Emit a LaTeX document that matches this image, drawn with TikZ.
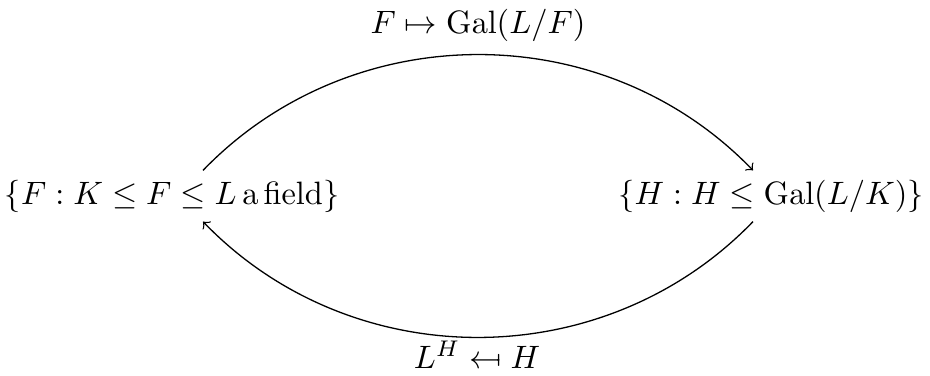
\documentclass[tikz,border=0pt]{standalone}
\usepackage{amsmath}
\usepackage{stmaryrd}
\usetikzlibrary{calc}
\begin{document}
\begin{tikzpicture}[x=0.309pt,y=-0.309pt,
  setnode/.style={inner sep=3.33pt},
  lbl/.style={inner sep=0pt},
  arr/.style={->,line width=0.4pt}]
\useasboundingbox (0,0) rectangle (930,376);
\node[setnode] (l) at (172,196) {$\{F : K \leq F \leq L\,\mathrm{a\,field}\}$};
\node[setnode] (r) at (771,196) {$\{H : H \leq \mathrm{Gal}(L/K)\}$};
\node[lbl] (t) at (478,25) {$F \mapsto \mathrm{Gal}(L/F)$};
\node[lbl] (b) at (477,355) {$L^H \mapsfrom H$};
\coordinate (a1) at ($(l.north)+(31,2)$);
\coordinate (a2) at ($(r.north)+(-18,2)$);
\coordinate (b1) at ($(r.south)+(-18,-2)$);
\coordinate (b2) at ($(l.south)+(31,-2)$);
\draw[arr] (a1) to[bend left=46] (a2);
\draw[arr] (b1) to[bend left=46] (b2);
\end{tikzpicture}
\end{document}
